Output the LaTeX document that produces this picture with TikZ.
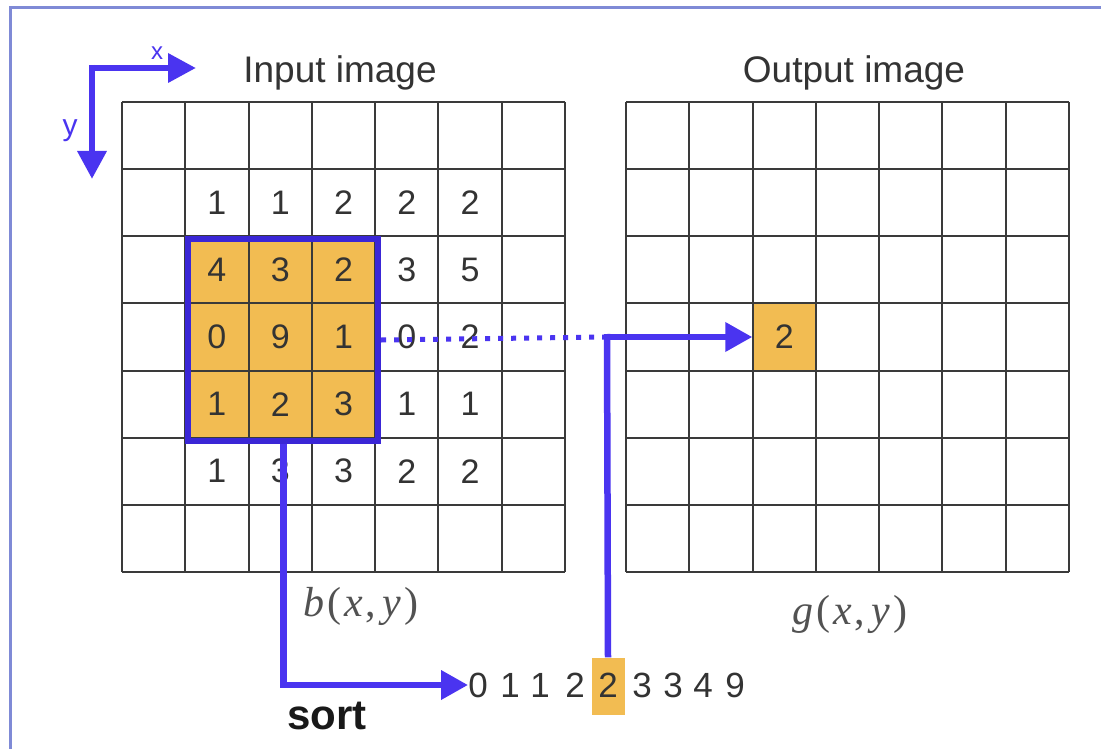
\documentclass[tikz,border=0pt]{standalone}
\usepackage{fontspec}
\setmainfont{Liberation Sans}
\newfontfamily\tms{Liberation Serif}
\usetikzlibrary{arrows.meta,calc}
\definecolor{gridc}{HTML}{3A3A3A}
\definecolor{blu}{RGB}{74,52,240}
\definecolor{boxblu}{RGB}{58,38,214}
\definecolor{orng}{HTML}{F2BC52}
\definecolor{txt}{HTML}{333333}
\definecolor{framec}{HTML}{7F8AD6}
\newcommand{\fxy}[1]{\itshape #1\kern3pt\upshape(\kern3pt\itshape x\kern2pt\upshape,\kern7pt\itshape y\kern3pt\upshape)}
\begin{document}
\begin{tikzpicture}[x=1pt,y=-1pt,
  gridline/.style={gridc, line width=2pt},
  cellnum/.style={font=\fontsize{34}{34}\selectfont, text=txt, inner sep=0pt},
  title/.style={font=\fontsize{37}{37}\selectfont, text=txt, inner sep=0pt},
  funclbl/.style={font=\fontsize{42}{42}\selectfont\tms, text=txt!85!white, inner sep=0pt},
  sortnum/.style={font=\fontsize{35}{35}\selectfont, text=txt, inner sep=0pt},
  bluline/.style={blu, line width=6.5pt},
  bigtip/.style={-{Triangle[length=28pt,width=28pt]}},
  midtip/.style={-{Triangle[length=27pt,width=28pt]}},
  dotline/.style={blu, line width=5pt, dash pattern=on 5pt off 8pt},
]
\useasboundingbox (0,0) rectangle (1101,749);
\fill[white] (0,0) rectangle (1101,749);
\draw[framec, line width=3pt] (10,749) -- (10,8) -- (1101,8);

% orange fills
\fill[orng] (185.3,236.3) rectangle (375.2,437.7);
\node[fill=orng, minimum width=63.3pt, minimum height=67.1pt, inner sep=0pt] (outc) at (784.2,337) {};

% grids
\foreach \i in {0,...,7} {
  \draw[gridline] ({122+63.29*\i},102) -- ({122+63.29*\i},572);
  \draw[gridline] (122,{102+67.14*\i}) -- (565,{102+67.14*\i});
  \draw[gridline] ({626+63.29*\i},102) -- ({626+63.29*\i},572);
  \draw[gridline] (626,{102+67.14*\i}) -- (1069,{102+67.14*\i});
}

% input numbers
\foreach \c/\r/\v in {1/1/1,2/1/1,3/1/2,4/1/2,5/1/2,
                      1/2/4,2/2/3,3/2/2,4/2/3,5/2/5,
                      1/3/0,2/3/9,3/3/1,4/3/0,5/3/2,
                      1/4/1,2/4/2,3/4/3,4/4/1,5/4/1,
                      1/5/1,2/5/3,3/5/3,4/5/2,5/5/2} {
  \node[cellnum] (n-\c-\r) at ({122+63.29*(\c+0.5)},{102+67.14*(\r+0.5)}) {\v};
}
\node[cellnum] (outnum) at (outc) {2};

% window
\node[draw=boxblu, line width=6pt, minimum width=189.9pt, minimum height=201.4pt, inner sep=0pt, anchor=north west] (win) at (185.3,236.3) {};

% titles
\node[title] (tin) at (340,73) {Input image};
\node[title] (tout) at (854,73) {Output image};
\node[funclbl] (bl) at (361,606) {\fxy{b}};
\node[funclbl] (gl) at (850,614) {\fxy{g}};
\node[font=\fontsize{42}{42}\selectfont\bfseries, text=black!90, inner sep=0pt] (sortlbl) at (327,716) {sort};

% sorted list
\node[fill=orng, minimum width=33pt, minimum height=57pt, inner sep=0pt] (s5) at (608,686) {};
\foreach \k/\x/\v in {1/478/0,2/510/1,3/540/1,4/575/2,6/642/3,7/673/3,8/703/4,9/735/9} {
  \node[sortnum] (s\k) at (\x,685) {\v};
}
\node[sortnum] (s5t) at (608,685) {2};

% axes
\coordinate (ax0) at (90,68);
\coordinate (axx) at (196,68);
\coordinate (axy) at (92,179);
\draw[bluline, bigtip] (ax0) -- (axx);
\draw[bluline, bigtip] ($(ax0)+(2,-3)$) -- (axy);
\node[font=\fontsize{24}{24}\selectfont, text=blu, inner sep=0pt] (xl) at (157,53) {x};
\node[font=\fontsize{30}{30}\selectfont, text=blu, inner sep=0pt] (yl) at (70,131) {y};

% connectors
\coordinate (jn) at (607,337);
\draw[dotline] (win.east) -- (jn);
\draw[bluline, midtip] (jn) -- (outc.west);
\draw[bluline] ($(jn)+(0,-3)$) -- (s5.north);
\draw[bluline, midtip] (win.south) |- (s1.west);
\end{tikzpicture}
\end{document}
